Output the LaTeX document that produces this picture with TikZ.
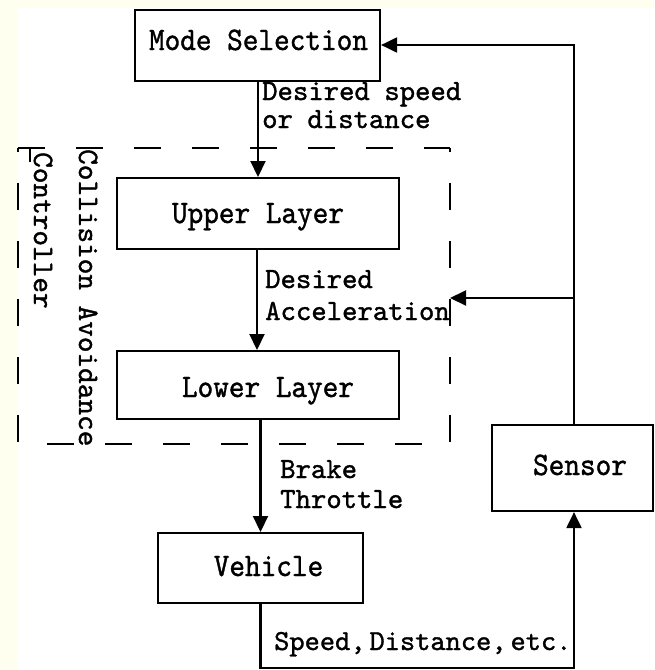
\documentclass[tikz,border=0pt]{standalone}
\usepackage{fontspec}
\usetikzlibrary{arrows.meta,calc}
\newfontfamily\bmfont{lmmono10-regular.otf}[FakeBold=1.2]
\newfontfamily\bmtight{lmmono10-regular.otf}[FakeBold=1.2]
\definecolor{cream}{RGB}{255,255,240}
\newcommand\mytxta[1]{\scalebox{1}[1.1]{#1}}
\newcommand\mytxtb[1]{\scalebox{1}[1.0]{#1}}
\newcommand\boxfont{\bmfont\fontsize{29.8}{34}\selectfont\fontdimen2\font=15.6pt\relax}
\newcommand\lblfont{\bmfont\fontsize{29.3}{34}\selectfont\fontdimen2\font=14.5pt\relax}
\newcommand\tightfont{\bmtight\fontsize{29}{34}\selectfont\fontdimen2\font=4pt\relax}
\tikzset{
  box/.style={draw, line width=2.1pt, inner sep=0pt, anchor=north west},
  boxtxt/.style={font=\boxfont, inner sep=0pt, anchor=base},
  lbl/.style={font=\lblfont, inner sep=0pt, anchor=base west},
  arr/.style={line width=2.1pt, -{Triangle[length=16pt,width=15pt]}},
  dsh/.style={line width=2.1pt, dash pattern=on 27pt off 31pt},
}
\begin{document}
\begin{tikzpicture}[x=1pt,y=-1pt]
\useasboundingbox (0,0) rectangle (654,670);
\fill[cream] (0,0) rectangle (654,670);
\fill[white] (17,8) rectangle (654,670);

% boxes
\node[box, minimum width=245pt, minimum height=71pt] (mode) at (134,9) {};
\node[box, minimum width=282pt, minimum height=71pt] (upper) at (116,177) {};
\node[box, minimum width=282pt, minimum height=68pt] (lower) at (116,350) {};
\node[box, minimum width=205pt, minimum height=70pt] (vehicle) at (157,532) {};
\node[box, minimum width=161pt, minimum height=86pt] (sensor) at (491,424) {};

% box texts
\node[boxtxt] (modeT) at (258.5,50) {\mytxta{Mode Selection}};
\node[boxtxt] (upperT) at (258,223) {\mytxta{Upper Layer}};
\node[boxtxt] (lowerT) at (268,397) {\mytxta{Lower Layer}};
\node[boxtxt] (vehicleT) at (268.5,576) {\mytxta{Vehicle}};
\node[boxtxt] (sensorT) at (580,475) {\mytxta{Sensor}};

% dashed controller frame
\draw[dsh] (18,148) -- (450,148);
\draw[dsh, dash phase=23pt] (450,148) -- (450,445);
\draw[dsh] (47,444) -- (423,444);
\draw[dsh, dash phase=23pt] (18,148) -- (18,445);
\draw[line width=1.4pt] (30,148) -- (30,162);

% rotated labels
\node[lbl, rotate=-90, font=\boxfont] (cav) at (79,149) {\mytxtb{Collision Avoidance}};
\node[lbl, rotate=-90, font=\boxfont] (ctrl) at (34,152) {\mytxtb{Controller}};

% connector labels
\node[lbl] (l1a) at (262,100) {\mytxtb{Desired speed}};
\node[lbl] (l1b) at (262,128) {\mytxtb{or distance}};
\node[lbl] (l2a) at (265,288) {\mytxtb{Desired}};
\node[lbl] (l2b) at (265,320) {\mytxtb{Acceleration}};
\node[lbl] (l3a) at (280,478) {\mytxtb{Brake}};
\node[lbl] (l3b) at (280,508) {\mytxtb{Throttle}};
\node[lbl, font=\tightfont] (l4) at (274,650) {\mytxtb{Speed, Distance, etc.}};

% helper coordinates
\coordinate (xa) at (258,0);
\coordinate (xb) at (257,0);
\coordinate (xc) at (260.5,0);
\coordinate (xr) at (574,0);
\coordinate (yb) at (0,668);
\coordinate (yt) at (0,45);
\coordinate (ym) at (450,298);

% connectors
\draw[arr] (xa |- mode.south) -- (xa |- upper.north);
\draw[arr] (xb |- upper.south) -- (xb |- lower.north);
\draw[arr] (xc |- lower.south) -- (xc |- vehicle.north);
\draw[arr] (xc |- vehicle.south) -- (xc |- yb) -- (xr |- yb) -- (xr |- sensor.south);
\draw[arr] (xr |- sensor.north) -- (xr |- yt) -- (mode.east |- yt);
\draw[arr] (xr |- ym) -- (ym);
\end{tikzpicture}
\end{document}
